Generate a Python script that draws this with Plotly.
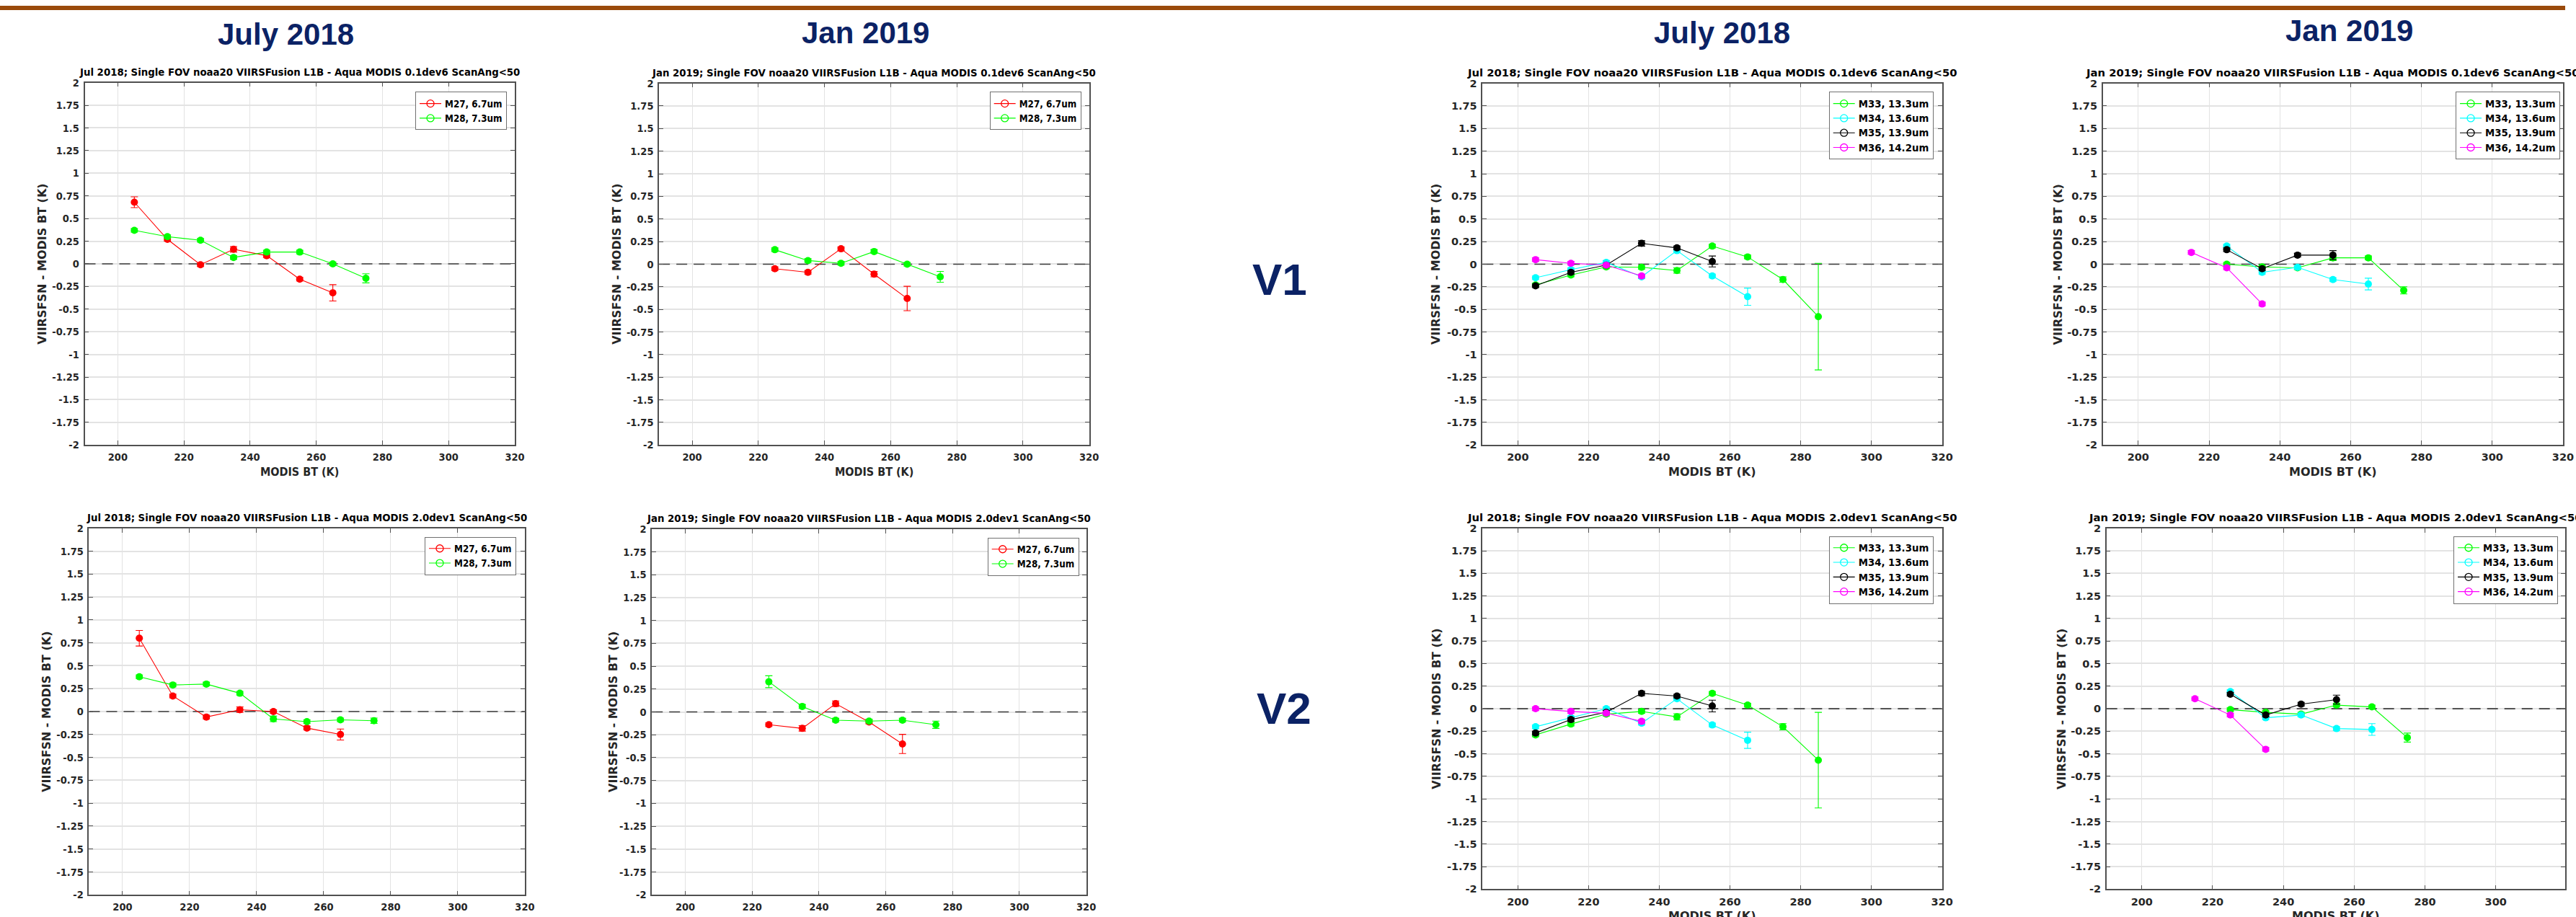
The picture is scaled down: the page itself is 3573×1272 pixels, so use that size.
import plotly.graph_objects as go

W, H = 3573, 1272

# ---------------------------------------------------------------------------
# Data: VIIRS (fusion) minus Aqua MODIS brightness-temperature bias per 10 K bin
# ---------------------------------------------------------------------------
X_TICKS = [200, 220, 240, 260, 280, 300, 320]
Y_TICKS = [2, 1.75, 1.5, 1.25, 1, 0.75, 0.5, 0.25, 0, -0.25, -0.5, -0.75, -1, -1.25, -1.5, -1.75, -2]
Y_TICK_TEXT = ["2", "1.75", "1.5", "1.25", "1", "0.75", "0.5", "0.25", "0", "-0.25", "-0.5",
               "-0.75", "-1", "-1.25", "-1.5", "-1.75", "-2"]
X_RANGE = [190, 320]

BINS_205_265 = [205, 215, 225, 235, 245, 255, 265]
BINS_205_275 = [205, 215, 225, 235, 245, 255, 265, 275]
BINS_205_285 = [205, 215, 225, 235, 245, 255, 265, 275, 285]
BINS_205_255 = [205, 215, 225, 235, 245, 255]
BINS_205_235 = [205, 215, 225, 235]
BINS_225_265 = [225, 235, 245, 255, 265]
BINS_225_275 = [225, 235, 245, 255, 265, 275]
BINS_225_255 = [225, 235, 245, 255]
BINS_215_235 = [215, 225, 235]

# V1 (0.1dev6), July 2018, water-vapour bands
v1_jul_m27 = [0.68, 0.27, -0.01, 0.16, 0.09, -0.17, -0.32]
v1_jul_m27_err = [0.06, 0.02, 0.02, 0.03, 0.02, 0.02, 0.09]
v1_jul_m28 = [0.37, 0.30, 0.26, 0.07, 0.13, 0.13, 0.00, -0.16]
v1_jul_m28_err = [0.02, 0.02, 0.02, 0.02, 0.02, 0.02, 0.02, 0.05]

# V1 (0.1dev6), January 2019, water-vapour bands
v1_jan_m27 = [-0.05, -0.09, 0.17, -0.11, -0.38]
v1_jan_m27_err = [0.02, 0.02, 0.02, 0.03, 0.135]
v1_jan_m28 = [0.16, 0.04, 0.01, 0.14, 0.00, -0.14]
v1_jan_m28_err = [0.02, 0.02, 0.02, 0.02, 0.02, 0.06]

# V2 (2.0dev1), July 2018, water-vapour bands
v2_jul_m27 = [0.80, 0.17, -0.06, 0.02, 0.00, -0.18, -0.25]
v2_jul_m27_err = [0.085, 0.02, 0.02, 0.03, 0.02, 0.02, 0.06]
v2_jul_m28 = [0.38, 0.29, 0.30, 0.20, -0.08, -0.11, -0.09, -0.10]
v2_jul_m28_err = [0.02, 0.02, 0.02, 0.02, 0.03, 0.02, 0.02, 0.03]

# V2 (2.0dev1), January 2019, water-vapour bands
v2_jan_m27 = [-0.14, -0.18, 0.09, -0.11, -0.35]
v2_jan_m27_err = [0.02, 0.03, 0.03, 0.02, 0.105]
v2_jan_m28 = [0.33, 0.06, -0.09, -0.10, -0.09, -0.14]
v2_jan_m28_err = [0.065, 0.02, 0.02, 0.02, 0.02, 0.04]

# V1 (0.1dev6), July 2018, CO2 bands
v1_jul_m33 = [-0.23, -0.12, -0.03, -0.035, -0.07, 0.20, 0.08, -0.17, -0.58]
v1_jul_m33_err = [0.02, 0.02, 0.02, 0.02, 0.03, 0.02, 0.02, 0.03, 0.59]
v1_jul_m34 = [-0.15, -0.06, 0.02, -0.14, 0.15, -0.13, -0.36]
v1_jul_m34_err = [0.02, 0.02, 0.02, 0.02, 0.02, 0.02, 0.095]
v1_jul_m35 = [-0.24, -0.09, -0.01, 0.23, 0.18, 0.03]
v1_jul_m35_err = [0.02, 0.02, 0.02, 0.03, 0.02, 0.06]
v1_jul_m36 = [0.05, 0.01, -0.01, -0.13]
v1_jul_m36_err = [0.02, 0.02, 0.02, 0.02]

# V1 (0.1dev6), January 2019, CO2 bands
v1_jan_m33 = [0.00, -0.03, -0.04, 0.07, 0.07, -0.29]
v1_jan_m33_err = [0.02, 0.02, 0.02, 0.03, 0.02, 0.04]
v1_jan_m34 = [0.20, -0.09, -0.035, -0.17, -0.22]
v1_jan_m34_err = [0.02, 0.02, 0.02, 0.02, 0.065]
v1_jan_m35 = [0.16, -0.05, 0.10, 0.10]
v1_jan_m35_err = [0.02, 0.02, 0.02, 0.05]
v1_jan_m36 = [0.13, -0.04, -0.44]
v1_jan_m36_err = [0.02, 0.02, 0.02]

# V2 (2.0dev1), July 2018, CO2 bands
v2_jul_m33 = [-0.29, -0.17, -0.06, -0.03, -0.09, 0.17, 0.04, -0.20, -0.57]
v2_jul_m33_err = [0.02, 0.02, 0.02, 0.02, 0.035, 0.02, 0.02, 0.035, 0.53]
v2_jul_m34 = [-0.20, -0.10, 0.00, -0.16, 0.11, -0.18, -0.35]
v2_jul_m34_err = [0.02, 0.02, 0.02, 0.02, 0.02, 0.02, 0.09]
v2_jul_m35 = [-0.27, -0.12, -0.04, 0.17, 0.14, 0.03]
v2_jul_m35_err = [0.02, 0.02, 0.02, 0.025, 0.02, 0.065]
v2_jul_m36 = [0.00, -0.03, -0.05, -0.14]
v2_jul_m36_err = [0.02, 0.02, 0.02, 0.02]

# V2 (2.0dev1), January 2019, CO2 bands
v2_jan_m33 = [-0.01, -0.04, -0.06, 0.04, 0.02, -0.32]
v2_jan_m33_err = [0.02, 0.02, 0.02, 0.02, 0.02, 0.05]
v2_jan_m34 = [0.19, -0.10, -0.07, -0.22, -0.23]
v2_jan_m34_err = [0.02, 0.02, 0.02, 0.02, 0.065]
v2_jan_m35 = [0.16, -0.07, 0.05, 0.10]
v2_jan_m35_err = [0.02, 0.02, 0.02, 0.05]
v2_jan_m36 = [0.11, -0.07, -0.45]
v2_jan_m36_err = [0.02, 0.02, 0.02]

BAND_LABELS = {
    "M27": "M27, 6.7um",
    "M28": "M28, 7.3um",
    "M33": "M33, 13.3um",
    "M34": "M34, 13.6um",
    "M35": "M35, 13.9um",
    "M36": "M36, 14.2um",
}
BAND_COLORS = {
    "M27": "#ff0000",
    "M28": "#00ff00",
    "M33": "#00ff00",
    "M34": "#00ffff",
    "M35": "#000000",
    "M36": "#ff00ff",
}

HEADERS = ["July 2018", "Jan 2019", "July 2018", "Jan 2019"]
ROW_LABELS = ["V1", "V2"]
X_TITLE = "MODIS BT (K)"
Y_TITLE = "VIIRSFSN - MODIS BT (K)"


def panel_title(month, version):
    return f"{month}; Single FOV noaa20 VIIRSFusion L1B - Aqua MODIS {version} ScanAng&lt;50"


# ---------------------------------------------------------------------------
# Styling / layout
# ---------------------------------------------------------------------------
NAVY = "#0b2265"
AXIS_COLOR = "#505050"
TEXT_COLOR = "#262626"
GRID_COLOR = "#e3e3e3"
COND = "DejaVu Sans Condensed, DejaVu Sans, sans-serif"
WIDE = "DejaVu Sans, sans-serif"
HEAD_FONT = "Liberation Sans, Arial, sans-serif"

# plot-area boxes in pixels: (left, right, top, bottom)
PANELS = [
    dict(box=(118, 717, 108, 617), font=COND, title=panel_title("Jul 2018", "0.1dev6"),
         series=[("M27", BINS_205_265, v1_jul_m27, v1_jul_m27_err),
                 ("M28", BINS_205_275, v1_jul_m28, v1_jul_m28_err)],
         legend_rt=(706, 121), ytitle_x=59),
    dict(box=(918, 1517, 109, 617), font=COND, title=panel_title("Jan 2019", "0.1dev6"),
         series=[("M27", BINS_225_265, v1_jan_m27, v1_jan_m27_err),
                 ("M28", BINS_225_275, v1_jan_m28, v1_jan_m28_err)],
         legend_rt=(1506, 121), ytitle_x=859),
    dict(box=(2065, 2705, 109, 617), font=WIDE, title=panel_title("Jul 2018", "0.1dev6"),
         series=[("M33", BINS_205_285, v1_jul_m33, v1_jul_m33_err),
                 ("M34", BINS_205_265, v1_jul_m34, v1_jul_m34_err),
                 ("M35", BINS_205_255, v1_jul_m35, v1_jul_m35_err),
                 ("M36", BINS_205_235, v1_jul_m36, v1_jul_m36_err)],
         legend_rt=(2693, 121), ytitle_x=2000),
    dict(box=(2929, 3570, 109, 617), font=WIDE, title=panel_title("Jan 2019", "0.1dev6"),
         series=[("M33", BINS_225_275, v1_jan_m33, v1_jan_m33_err),
                 ("M34", BINS_225_265, v1_jan_m34, v1_jan_m34_err),
                 ("M35", BINS_225_255, v1_jan_m35, v1_jan_m35_err),
                 ("M36", BINS_215_235, v1_jan_m36, v1_jan_m36_err)],
         legend_rt=(3566, 121), ytitle_x=2866),
    dict(box=(124, 731, 734, 1249), font=COND, title=panel_title("Jul 2018", "2.0dev1"),
         series=[("M27", BINS_205_265, v2_jul_m27, v2_jul_m27_err),
                 ("M28", BINS_205_275, v2_jul_m28, v2_jul_m28_err)],
         legend_rt=(719, 746), ytitle_x=64),
    dict(box=(908, 1513, 735, 1249), font=COND, title=panel_title("Jan 2019", "2.0dev1"),
         series=[("M27", BINS_225_265, v2_jan_m27, v2_jan_m27_err),
                 ("M28", BINS_225_275, v2_jan_m28, v2_jan_m28_err)],
         legend_rt=(1503, 747), ytitle_x=854),
    dict(box=(2065, 2705, 734, 1241), font=WIDE, title=panel_title("Jul 2018", "2.0dev1"),
         series=[("M33", BINS_205_285, v2_jul_m33, v2_jul_m33_err),
                 ("M34", BINS_205_265, v2_jul_m34, v2_jul_m34_err),
                 ("M35", BINS_205_255, v2_jul_m35, v2_jul_m35_err),
                 ("M36", BINS_205_235, v2_jul_m36, v2_jul_m36_err)],
         legend_rt=(2693, 745), ytitle_x=2000),
    dict(box=(2934, 3573, 734, 1241), font=WIDE, title=panel_title("Jan 2019", "2.0dev1"),
         series=[("M33", BINS_225_275, v2_jan_m33, v2_jan_m33_err),
                 ("M34", BINS_225_265, v2_jan_m34, v2_jan_m34_err),
                 ("M35", BINS_225_255, v2_jan_m35, v2_jan_m35_err),
                 ("M36", BINS_215_235, v2_jan_m36, v2_jan_m36_err)],
         legend_rt=(3563, 745), ytitle_x=2871, xmax=319.6),
]


def fx(p):
    return p / W


def fy(p):
    return 1 - p / H


fig = go.Figure()
layout = dict(
    width=W, height=H, margin=dict(l=0, r=0, t=0, b=0),
    paper_bgcolor="white", plot_bgcolor="white", hovermode=False,
    showlegend=True,
)
shapes = []
annotations = []

for i, p in enumerate(PANELS, start=1):
    sfx = "" if i == 1 else str(i)
    xa, ya = f"x{sfx}", f"y{sfx}"
    leg = "legend" if i == 1 else f"legend{i}"
    l, r, t, b = p["box"]
    font = p["font"]
    xmax = p.get("xmax", X_RANGE[1])

    for band, xs, ys, errs in p["series"]:
        c = BAND_COLORS[band]
        fig.add_trace(go.Scatter(
            x=xs, y=ys, mode="lines+markers", xaxis=xa, yaxis=ya,
            line=dict(color=c, width=1.1),
            marker=dict(color=c, size=10, line=dict(width=0)),
            error_y=dict(type="data", array=errs, visible=True, color=c, thickness=1.1, width=5),
            showlegend=False,
        ))
        # legend entry drawn with an open marker
        fig.add_trace(go.Scatter(
            x=[None], y=[None], mode="lines+markers", xaxis=xa, yaxis=ya,
            line=dict(color=c, width=1.1),
            marker=dict(symbol="circle-open", color=c, size=10, line=dict(width=1.3)),
            name=BAND_LABELS[band], legend=leg, showlegend=True,
        ))

    tickfont = dict(family=font, size=14.5, color=TEXT_COLOR, weight="bold")
    layout[f"xaxis{sfx}"] = dict(
        domain=[fx(l), fx(r)], range=[X_RANGE[0], xmax], anchor=ya,
        tickvals=X_TICKS, ticktext=[str(v) for v in X_TICKS],
        showgrid=True, gridcolor=GRID_COLOR, gridwidth=1, zeroline=False,
        showline=True, linecolor=AXIS_COLOR, linewidth=1.5, mirror="ticks",
        ticks="inside", ticklen=6, tickwidth=1.3, tickcolor=AXIS_COLOR,
        tickfont=tickfont, ticklabelstandoff=3, fixedrange=True,
    )
    layout[f"yaxis{sfx}"] = dict(
        domain=[fy(b), fy(t)], range=[-2, 2], anchor=xa,
        tickvals=Y_TICKS, ticktext=Y_TICK_TEXT,
        showgrid=True, gridcolor=GRID_COLOR, gridwidth=1.6, zeroline=False,
        showline=True, linecolor=AXIS_COLOR, linewidth=1.5, mirror="ticks",
        ticks="inside", ticklen=6, tickwidth=1.3, tickcolor=AXIS_COLOR,
        tickfont=tickfont, ticklabelstandoff=3, fixedrange=True,
    )

    lr, lt = p["legend_rt"]
    layout[leg] = dict(
        x=fx(lr), y=fy(lt), xanchor="right", yanchor="top", xref="paper", yref="paper",
        bgcolor="white", bordercolor="#707070", borderwidth=1,
        font=dict(family=font, size=13.3, color="#000000", weight="bold"),
        itemwidth=30, tracegroupgap=0,
    )

    # dashed zero reference line, between the grid and the data
    shapes.append(dict(
        type="line", xref=xa, x0=X_RANGE[0], x1=xmax, yref=ya, y0=0, y1=0,
        line=dict(color="#3c3c3c", width=1.6, dash="15px,9px"), layer="between",
    ))

    # panel title
    annotations.append(dict(
        text=p["title"], x=fx((l + r) / 2), y=fy(t - 15), xref="paper", yref="paper",
        xanchor="center", yanchor="middle", showarrow=False,
        font=dict(family=font, size=14.8, color="#000000", weight="bold"),
    ))
    # x-axis title
    annotations.append(dict(
        text=X_TITLE, x=fx((l + r) / 2), y=fy(b + 38), xref="paper", yref="paper",
        xanchor="center", yanchor="middle", showarrow=False,
        font=dict(family=font, size=16, color=TEXT_COLOR, weight="bold"),
    ))
    # y-axis title
    annotations.append(dict(
        text=Y_TITLE, x=fx(p["ytitle_x"]), y=fy((t + b) / 2), xref="paper", yref="paper",
        xanchor="center", yanchor="middle", showarrow=False, textangle=-90,
        font=dict(family=WIDE, size=16, color=TEXT_COLOR, weight="bold"),
    ))

# column headers
for text, (cx, cy) in zip(HEADERS, [(398, 40), (1206, 38), (2399, 38), (3272, 35)]):
    annotations.append(dict(
        text=text, x=fx(cx), y=fy(cy), xref="paper", yref="paper",
        xanchor="center", yanchor="middle", showarrow=False,
        font=dict(family=HEAD_FONT, size=42, color=NAVY, weight="bold"),
    ))

# row labels
for text, (cx, cy) in zip(ROW_LABELS, [(1782, 384), (1789, 987)]):
    annotations.append(dict(
        text=text, x=fx(cx), y=fy(cy), xref="paper", yref="paper",
        xanchor="center", yanchor="middle", showarrow=False,
        font=dict(family=HEAD_FONT, size=62, color=NAVY, weight="bold"),
    ))

# thin banner strip along the top edge
shapes.append(dict(
    type="rect", xref="paper", yref="paper", x0=0, x1=1, y0=fy(6), y1=1,
    fillcolor="#9a4a0b", line=dict(width=0), layer="above",
))

layout["shapes"] = shapes
layout["annotations"] = annotations
fig.update_layout(**layout)

fig.write_html("out.html")
